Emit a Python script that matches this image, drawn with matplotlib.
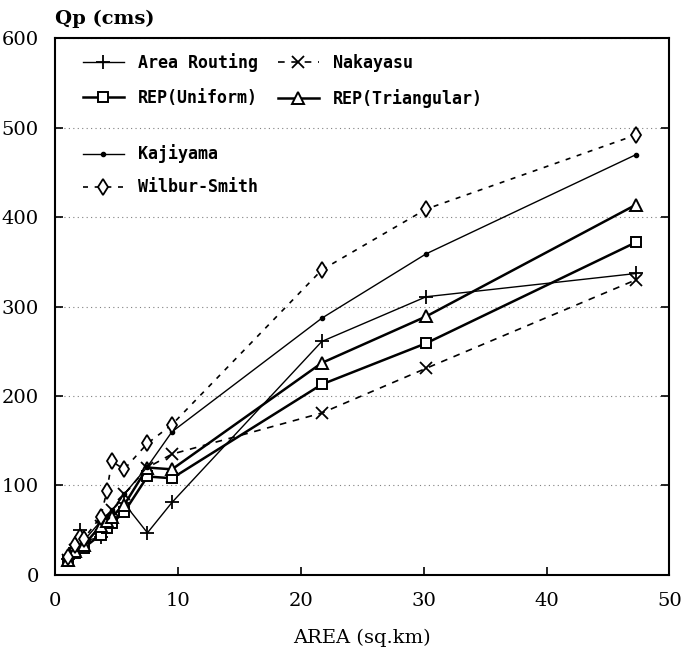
import matplotlib.pyplot as plt
from matplotlib.ticker import MultipleLocator

# Catchment areas (sq.km)
area = [1.0, 1.6, 2.0, 2.3, 3.7, 4.2, 4.6, 5.6, 7.5, 9.5, 21.7, 30.2, 47.3]

# Peak discharge Qp (cms) by method
area_routing = [18, 30, 50, 38, 42, 58, 65, 80, 47, 81, 261, 311, 337]
nakayasu     = [17, 28, 35, 32, 55, 60, 72, 90, 120, 135, 181, 231, 330]
rep_uniform  = [15, 25, 32, 30, 45, 52, 58, 70, 110, 108, 213, 259, 372]
rep_triang   = [17, 27, 35, 33, 55, 60, 65, 78, 120, 118, 237, 289, 414]
kajiyama     = [20, 32, 40, 38, 60, 65, 72, 90, 121, 160, 287, 359, 470]
wilbur_smith = [20, 33, 42, 40, 65, 94, 127, 118, 147, 168, 341, 409, 492]

fig = plt.figure(figsize=(6.83, 6.6), dpi=100)
ax = fig.add_axes([0.081, 0.129, 0.899, 0.813])

l1, = ax.plot(area, area_routing, color='black', lw=1.0, marker='+', ms=10, mew=1.3,
              label='Area Routing')
l2, = ax.plot(area, nakayasu, color='black', lw=1.2, ls=(0, (4, 4)), marker='x', ms=8,
              mew=1.3, label='Nakayasu')
l3, = ax.plot(area, rep_uniform, color='black', lw=1.8, marker='s', ms=7, mfc='white',
              mew=1.4, label='REP(Uniform)')
l4, = ax.plot(area, rep_triang, color='black', lw=1.8, marker='^', ms=8, mfc='white',
              mew=1.4, label='REP(Triangular)')
l5, = ax.plot(area, kajiyama, color='black', lw=1.0, marker='o', ms=3,
              label='Kajiyama')
l6, = ax.plot(area, wilbur_smith, color='black', lw=1.2, ls=(0, (3, 4)), marker='d', ms=8,
              mfc='white', mew=1.3, label='Wilbur-Smith')

ax.set_xlim(0, 50)
ax.set_ylim(0, 600)
ax.xaxis.set_major_locator(MultipleLocator(10))
ax.yaxis.set_major_locator(MultipleLocator(100))
ax.tick_params(direction='in', length=6, width=1.2, top=False, right=True,
               labelsize=14, pad=12)
for lab in ax.get_xticklabels() + ax.get_yticklabels():
    lab.set_family('DejaVu Serif')
ax.yaxis.grid(True, ls=(0, (1, 3)), color='gray', lw=0.8)
for s in ax.spines.values():
    s.set_linewidth(1.5)

ax.set_xlabel('AREA (sq.km)', family='DejaVu Serif', fontsize=14, labelpad=14)
ax.text(0.0, 1.02, 'Qp (cms)', transform=ax.transAxes, family='DejaVu Serif',
        fontsize=14, fontweight='bold', ha='left', va='bottom')

lfont = {'family': 'DejaVu Sans Mono', 'weight': 'bold', 'size': 12}
leg1 = ax.legend(handles=[l1, l3, l2, l4], ncol=2, loc='upper left',
                 bbox_to_anchor=(0.02, 1.0), frameon=False, prop=lfont,
                 handlelength=2.5, columnspacing=1.2, labelspacing=1.0)
ax.add_artist(leg1)
ax.legend(handles=[l5, l6], loc='upper left', bbox_to_anchor=(0.02, 0.83),
          frameon=False, prop=lfont, handlelength=2.5, labelspacing=0.9)

fig.savefig('out.png', dpi=100)
